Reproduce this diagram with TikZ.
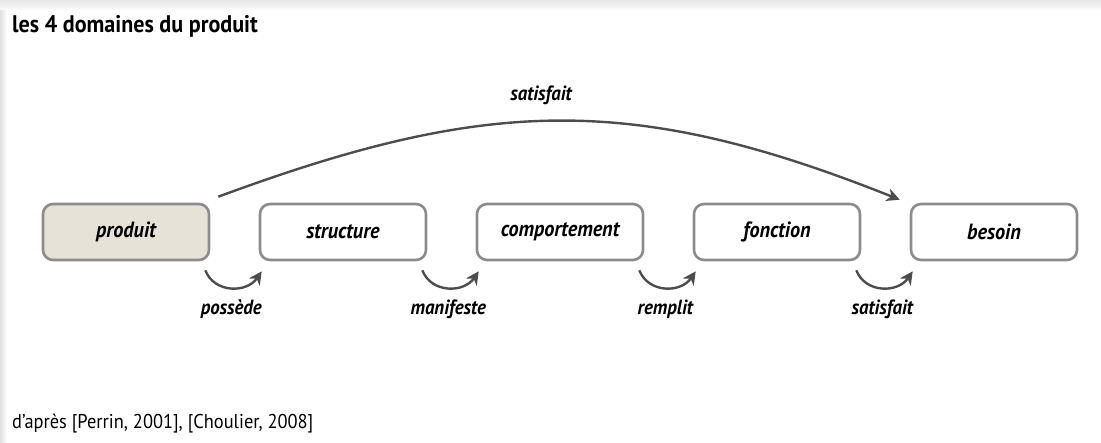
\documentclass[tikz,border=0pt]{standalone}
\usepackage{fontspec}
\setmainfont{PT Sans}[FakeStretch=0.92]
\usetikzlibrary{positioning,arrows.meta}
\definecolor{boxline}{HTML}{8C8C8C}
\definecolor{boxfill}{HTML}{E6E2D8}
\definecolor{arrowgray}{HTML}{4D4D4D}
\tikzset{
    domain box/.style={
        draw=boxline, line width=2.6pt, rounded corners=10pt,
        minimum width=166pt, minimum height=56pt, inner sep=0pt,
        font=\fontsize{22}{26}\selectfont\bfseries\itshape
    },
    relation/.style={
        draw=arrowgray, line width=2.4pt,
        -{Stealth[length=13pt,width=13pt,inset=4pt]}
    },
    relation label/.style={
        font=\fontsize{20.5}{24}\selectfont\bfseries\itshape
    }
}

\begin{document}
\begin{tikzpicture}[x=1pt,y=-1pt]
\useasboundingbox (0,0) rectangle (1101,443);
\shade[top color=gray!20, bottom color=white] (0,0) rectangle (1101,11);
\shade[left color=gray!25, right color=white] (0,11) rectangle (7,443);
\node[anchor=base west, inner sep=0pt, font=\fontsize{24}{29}\selectfont\bfseries] (titre) at (12,33) {les 4 domaines du produit};
\node[domain box, fill=boxfill] (produit) at (126,232) {produit};
\node[domain box, right=48.4pt of produit] (structure) {structure};
\node[domain box, right=48.4pt of structure] (comportement) {comportement};
\node[domain box, right=48.4pt of comportement] (fonction) {fonction};
\node[domain box, right=48.4pt of fonction] (besoin) {besoin};
\foreach \a/\b/\rel in {produit/structure/possède, structure/comportement/manifeste,
    comportement/fonction/remplit, fonction/besoin/satisfait}
    \draw[relation] ([shift={(-5,9)}]\a.south east) .. controls +(9,23) and +(-15,22) .. ([shift={(3,10)}]\b.south west)
        node[midway, below=8pt, relation label] (\rel) {\rel};
\draw[relation] ([shift={(8,-6)}]produit.north east) .. controls +(268,-99) and +(-268,-107) .. ([shift={(-10,-3)}]besoin.north west)
    node[midway, above=12pt, xshift=-18pt, relation label] (arc) {satisfait};
\node[anchor=base west, inner sep=0pt, font=\fontsize{20}{24}\selectfont] (source) at (12,429) {d’après [Perrin, 2001], [Choulier, 2008]};
\end{tikzpicture}
\end{document}
